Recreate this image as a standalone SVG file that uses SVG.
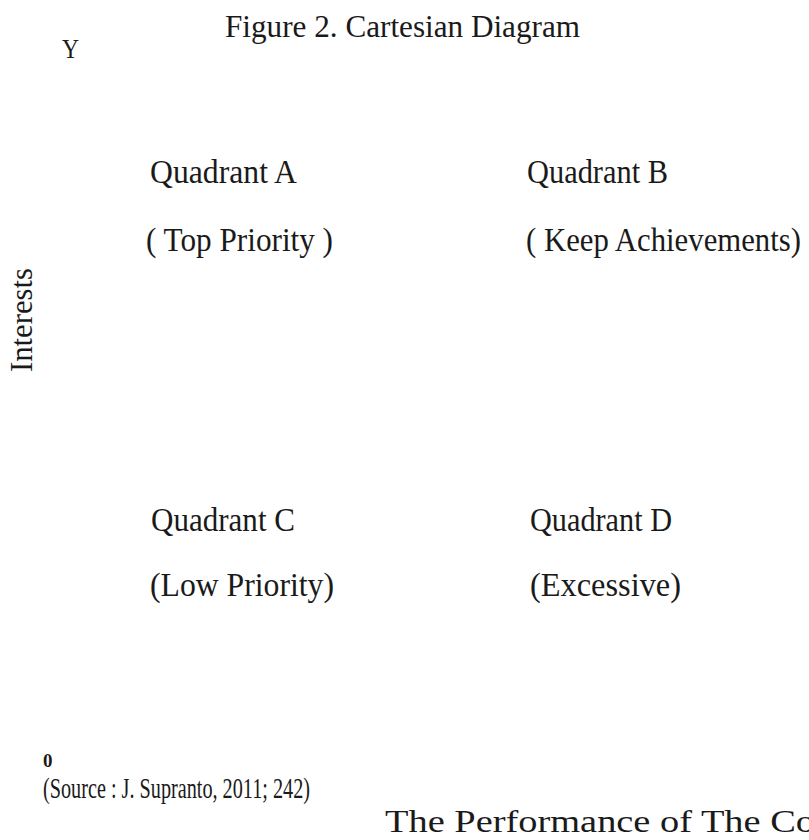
<svg xmlns="http://www.w3.org/2000/svg" width="809" height="840" viewBox="0 0 809 840">
<style>
  text { font-family: "Liberation Serif", "Times New Roman", serif; fill: #1a1a1a; font-size: 33px; }
  .title { font-size: 32px; }
  .axis { font-size: 27px; }
  .side { font-size: 31px; }
  .zero { font-size: 19px; font-weight: bold; }
  .src { font-size: 29px; }
  .xlab { font-size: 31px; }
</style>
<rect width="809" height="840" fill="#ffffff"/>
<g id="title"><text class="title" x="225" y="37" textLength="355" lengthAdjust="spacingAndGlyphs">Figure 2. Cartesian Diagram</text></g>
<g id="y-axis-label"><text class="axis" x="62" y="58" textLength="17" lengthAdjust="spacingAndGlyphs">Y</text></g>
<g id="interests-label"><text class="side" x="32" y="372" transform="rotate(-90 32 372)" textLength="104" lengthAdjust="spacingAndGlyphs">Interests</text></g>
<g id="quadrant-a">
  <text x="150" y="183" textLength="147" lengthAdjust="spacingAndGlyphs">Quadrant A</text>
  <text x="146" y="251" textLength="187" lengthAdjust="spacingAndGlyphs">( Top Priority )</text>
</g>
<g id="quadrant-b">
  <text x="527" y="183" textLength="141" lengthAdjust="spacingAndGlyphs">Quadrant B</text>
  <text x="526" y="251" textLength="275" lengthAdjust="spacingAndGlyphs">( Keep Achievements)</text>
</g>
<g id="quadrant-c">
  <text x="151" y="531" textLength="144" lengthAdjust="spacingAndGlyphs">Quadrant C</text>
  <text x="150" y="596" textLength="184" lengthAdjust="spacingAndGlyphs">(Low Priority)</text>
</g>
<g id="quadrant-d">
  <text x="530" y="531" textLength="142" lengthAdjust="spacingAndGlyphs">Quadrant D</text>
  <text x="530" y="596" textLength="151" lengthAdjust="spacingAndGlyphs">(Excessive)</text>
</g>
<g id="origin"><text class="zero" x="43" y="767">0</text></g>
<g id="source"><text class="src" x="43" y="798" textLength="267" lengthAdjust="spacingAndGlyphs">(Source : J. Supranto, 2011; 242)</text></g>
<g id="x-axis-label"><text class="xlab" x="385" y="832" textLength="430" lengthAdjust="spacingAndGlyphs">The Performance of The Co</text></g>
<g id="connectors"></g>
</svg>
